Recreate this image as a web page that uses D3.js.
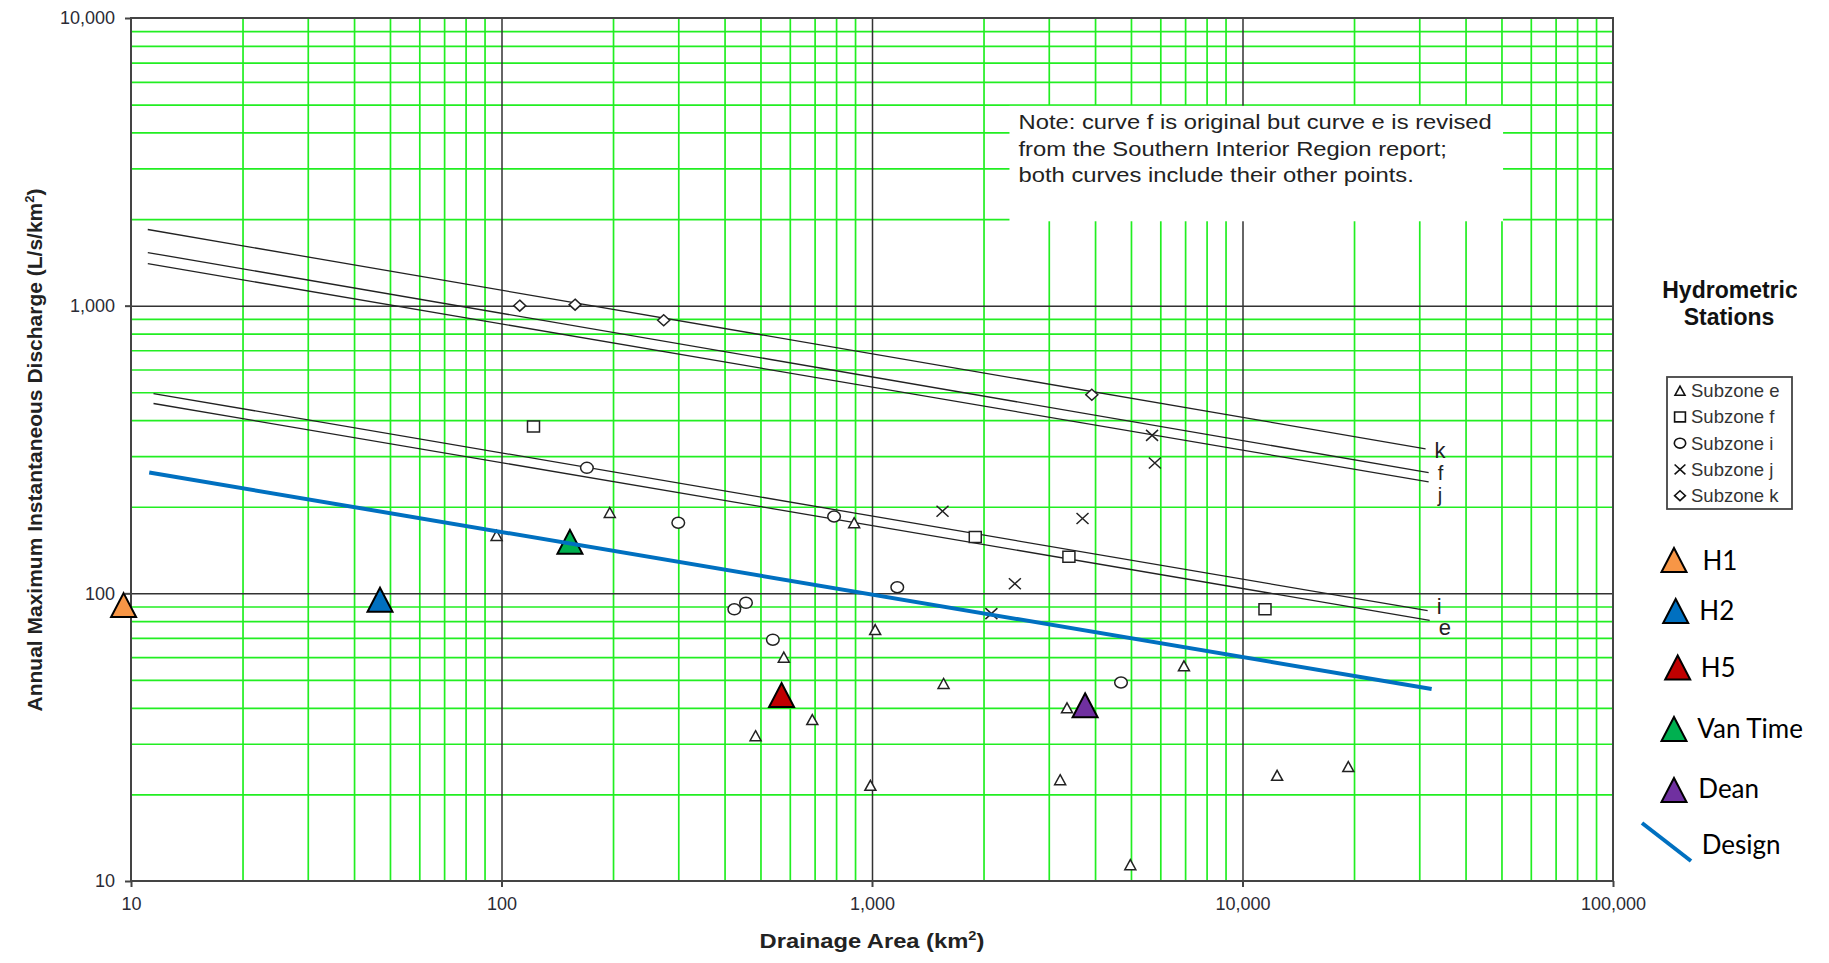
<!DOCTYPE html>
<html><head><meta charset="utf-8">
<script src="https://cdn.jsdelivr.net/npm/d3@7"></script>
<style>
html,body{margin:0;padding:0;background:#fff;}
svg{display:block;font-family:"Liberation Sans",Arial,sans-serif;}
</style>
</head><body>
<svg id="chart" width="1829" height="963"></svg>
<script>
// ---------------- DATA ----------------
const xTicks = [10, 100, 1000, 10000, 100000];
const xTickLabels = ["10", "100", "1,000", "10,000", "100,000"];
const yTicks = [10, 100, 1000, 10000];
const yTickLabels = ["10", "100", "1,000", "10,000"];

// regional curves: [area, discharge] at start and end
const curveNames = ["k", "f", "j", "i", "e"];
const curveStart = [[11.1, 1840], [11.1, 1530], [11.1, 1400], [11.5, 495], [11.5, 457]];
const curveEnd   = [[31200, 318], [31800, 263], [31800, 244], [31600, 87], [32000, 80.6]];

// design curve
const designLine = [[11.2, 263], [32400, 46.5]];

// hydrometric stations by subzone [area km2, L/s/km2]
const subzoneE = [[97, 159], [196, 191], [895, 176], [1020, 74.8], [578, 60], [1560, 48.6],
                  [3360, 40], [690, 36.4], [485, 32], [3220, 22.5], [990, 21.5], [4980, 11.4],
                  [6950, 56], [12400, 23.3], [19300, 25]];
const subzoneF = [[122, 380], [1900, 157], [3400, 134], [11500, 88]];
const subzoneI = [[170, 273], [300, 176], [790, 185], [1170, 105], [425, 88], [457, 92.7], [540, 69], [4700, 49]];
const subzoneJ = [[1550, 193], [2430, 108], [2100, 85], [3700, 182], [5700, 354], [5800, 284]];
const subzoneK = [[112, 1000], [158, 1008], [274, 890], [3920, 490]];
const subzoneLabels = ["Subzone e", "Subzone f", "Subzone i", "Subzone j", "Subzone k"];

// project stations
const stationNames = ["H1", "H2", "H5", "Van Time", "Dean"];
const stationArea  = [9.55, 47, 570, 153, 3760];
const stationQ     = [91, 95, 44.3, 151, 40.8];
const stationColors = ["#F79646", "#0070C0", "#C00000", "#00B050", "#7030A0"];

const noteLines = ["Note: curve f is original but curve e is revised",
                   "from the Southern Interior Region report;",
                   "both curves include their other points."];
const noteBox = [[2350, 4950], [50500, 1965]];

// ---------------- LAYOUT ----------------
const svg = d3.select("#chart");
const x = d3.scaleLog().domain([10, 100000]).range([131, 1613]);
const y = d3.scaleLog().domain([10, 10000]).range([881, 18]);
const X0 = x.range()[0], X1 = x.range()[1], Y0 = y.range()[1], Y1 = y.range()[0];

const GREEN = "#22ee22", DARK = "#333";

// minor grid (green) via axes
const minorX = x.ticks().filter(d => !xTicks.includes(d));
const minorY = y.ticks().filter(d => !yTicks.includes(d));

const gGrid = svg.append("g");
gGrid.append("g").attr("transform", `translate(0,${Y1})`)
  .call(d3.axisBottom(x).tickValues(minorX).tickSize(-(Y1 - Y0)).tickFormat(""))
  .call(g => g.select(".domain").remove())
  .selectAll("line").attr("stroke", GREEN).attr("stroke-width", 1.7);
gGrid.append("g").attr("transform", `translate(${X0},0)`)
  .call(d3.axisLeft(y).tickValues(minorY).tickSize(-(X1 - X0)).tickFormat(""))
  .call(g => g.select(".domain").remove())
  .selectAll("line").attr("stroke", GREEN).attr("stroke-width", 1.7);

// note box (white) covering grid
svg.append("rect")
  .attr("x", x(noteBox[0][0])).attr("y", y(noteBox[0][1]))
  .attr("width", x(noteBox[1][0]) - x(noteBox[0][0]))
  .attr("height", y(noteBox[1][1]) - y(noteBox[0][1]))
  .attr("fill", "#fff");

// major grid lines (dark)
gGrid.append("g").attr("transform", `translate(0,${Y1})`)
  .call(d3.axisBottom(x).tickValues(xTicks.slice(1, -1)).tickSize(-(Y1 - Y0)).tickFormat(""))
  .call(g => g.select(".domain").remove())
  .selectAll("line").attr("stroke", DARK).attr("stroke-width", 1.5);
gGrid.append("g").attr("transform", `translate(${X0},0)`)
  .call(d3.axisLeft(y).tickValues(yTicks.slice(1, -1)).tickSize(-(X1 - X0)).tickFormat(""))
  .call(g => g.select(".domain").remove())
  .selectAll("line").attr("stroke", DARK).attr("stroke-width", 1.5);

// note text
const noteG = svg.append("g")
  .attr("transform", `translate(${x(noteBox[0][0]) + 9},0)`);
noteLines.forEach((t, i) => {
  noteG.append("text")
    .attr("transform", `translate(0,${129 + i * 26.5}) scale(1.22,1)`)
    .attr("font-size", 19.5).attr("fill", "#222").text(t);
});

// frame
svg.append("rect").attr("x", X0).attr("y", Y0).attr("width", X1 - X0).attr("height", Y1 - Y0)
  .attr("fill", "none").attr("stroke", "#444").attr("stroke-width", 2);

// axes ticks & labels
const xAxisG = svg.append("g").attr("transform", `translate(0,${Y1})`)
  .call(d3.axisBottom(x).tickValues(xTicks).tickFormat((d, i) => xTickLabels[i]).tickSize(6).tickPadding(10).tickSizeOuter(0));
xAxisG.select(".domain").remove();
xAxisG.selectAll("line").attr("stroke", "#444").attr("stroke-width", 2);
xAxisG.selectAll("text").attr("font-size", 18).attr("fill", "#2b2b35").attr("font-family", "Liberation Sans, Arial, sans-serif");

const yAxisG = svg.append("g").attr("transform", `translate(${X0},0)`)
  .call(d3.axisLeft(y).tickValues(yTicks).tickFormat((d, i) => yTickLabels[i]).tickSize(6).tickPadding(10).tickSizeOuter(0));
yAxisG.select(".domain").remove();
yAxisG.selectAll("line").attr("stroke", "#444").attr("stroke-width", 2);
yAxisG.selectAll("text").attr("font-size", 18).attr("fill", "#2b2b35").attr("font-family", "Liberation Sans, Arial, sans-serif");

// axis titles
const xt = svg.append("text")
  .attr("transform", `translate(872,948) scale(1.13,1)`)
  .attr("text-anchor", "middle").attr("font-size", 21).attr("font-weight", "bold").attr("fill", "#222");
xt.append("tspan").text("Drainage Area (km");
xt.append("tspan").attr("font-size", 13).attr("dy", -8).text("2");
xt.append("tspan").attr("dy", 8).text(")");

const yt = svg.append("text")
  .attr("transform", "translate(42,450) rotate(-90)")
  .attr("text-anchor", "middle").attr("font-size", 21).attr("font-weight", "bold").attr("fill", "#222");
yt.append("tspan").text("Annual Maximum Instantaneous Discharge (L/s/km");
yt.append("tspan").attr("font-size", 13).attr("dy", -8).text("2");
yt.append("tspan").attr("dy", 8).text(")");

// regional curves
const line = d3.line().x(d => x(d[0])).y(d => y(d[1]));
const curveLabelDy = [9, 7, 20, 3, 15];
const curveLabelSize = [22, 20, 20, 22, 22];
curveNames.forEach((n, i) => {
  svg.append("path").attr("d", line([curveStart[i], curveEnd[i]]))
    .attr("fill", "none").attr("stroke", "#222").attr("stroke-width", 1.3);
  svg.append("text")
    .attr("x", x(curveEnd[i][0]) + 9).attr("y", y(curveEnd[i][1]) + curveLabelDy[i])
    .attr("font-size", curveLabelSize[i]).attr("fill", "#222").text(n);
});

// marker shapes
const shapes = {
  tri: "M0,-5 L5.5,5 L-5.5,5 Z",
  sq: "M-6,-5.5 H6 V5.5 H-6 Z",
  circ: "M-6.3,0 A6.3,5.5 0 1,0 6.3,0 A6.3,5.5 0 1,0 -6.3,0 Z",
  x: "M-6,-5.5 L6,5.5 M-6,5.5 L6,-5.5",
  dia: "M0,-5.5 L6,0 L0,5.5 L-6,0 Z"
};
const groups = [[subzoneE, "tri"], [subzoneF, "sq"], [subzoneI, "circ"], [subzoneJ, "x"], [subzoneK, "dia"]];
groups.forEach(([data, shp]) => {
  svg.append("g").selectAll("path").data(data).join("path")
    .attr("transform", d => `translate(${x(d[0])},${y(d[1])})`)
    .attr("d", shapes[shp])
    .attr("fill", shp === "x" ? "none" : "#fff")
    .attr("stroke", "#222").attr("stroke-width", 1.5);
});

// station triangles
const bigTri = "M0,-12 L12.5,12 L-12.5,12 Z";
svg.append("g").selectAll("path").data(stationNames).join("path")
  .attr("transform", (d, i) => `translate(${x(stationArea[i])},${y(stationQ[i])})`)
  .attr("d", bigTri)
  .attr("fill", (d, i) => stationColors[i])
  .attr("stroke", "#000").attr("stroke-width", 2);

// design line
svg.append("path").attr("d", line(designLine))
  .attr("fill", "none").attr("stroke", "#0070C0").attr("stroke-width", 4);

// ---------------- LEGENDS ----------------
svg.append("defs").append("clipPath").attr("id", "clipR")
  .append("rect").attr("x", 0).attr("y", 0).attr("width", 1797).attr("height", 963);
const lg = svg.append("g").attr("clip-path", "url(#clipR)");
lg.append("text").attr("x", 1730).attr("y", 298).attr("text-anchor", "middle")
  .attr("font-size", 23).attr("font-weight", "bold").attr("fill", "#111").text("Hydrometric");
lg.append("text").attr("x", 1729).attr("y", 325).attr("text-anchor", "middle")
  .attr("font-size", 23).attr("font-weight", "bold").attr("fill", "#111").text("Stations");

svg.append("rect").attr("x", 1667).attr("y", 377).attr("width", 125).attr("height", 132)
  .attr("fill", "#fff").attr("stroke", "#444").attr("stroke-width", 1.8);
const legShapes = ["tri", "sq", "circ", "x", "dia"];
subzoneLabels.forEach((t, i) => {
  const cy = 390.7 + i * 26.25;
  svg.append("path").attr("transform", `translate(1680,${cy}) scale(0.9)`)
    .attr("d", shapes[legShapes[i]])
    .attr("fill", legShapes[i] === "x" ? "none" : "#fff")
    .attr("stroke", "#111").attr("stroke-width", 1.8);
  svg.append("text").attr("x", 1691).attr("y", cy + 6.5)
    .attr("font-size", 18.5).attr("fill", "#333").text(t);
});

const stLegTri = [[1674, 560], [1675.7, 611], [1677.7, 667.5], [1674, 729], [1674, 790]];
const stLegText = [[1702.5, 570], [1699.3, 620], [1700.7, 676.7], [1697.3, 738], [1698.3, 798]];
stationNames.forEach((n, i) => {
  svg.append("path").attr("transform", `translate(${stLegTri[i][0]},${stLegTri[i][1]})`)
    .attr("d", bigTri).attr("fill", stationColors[i]).attr("stroke", "#000").attr("stroke-width", 2);
  svg.append("text").attr("x", stLegText[i][0]).attr("y", stLegText[i][1])
    .attr("font-family", "Lato, 'Open Sans', sans-serif").attr("font-size", 26).attr("fill", "#000").text(n);
});
svg.append("line").attr("x1", 1642).attr("y1", 823).attr("x2", 1691).attr("y2", 861)
  .attr("stroke", "#0070C0").attr("stroke-width", 4);
svg.append("text").attr("x", 1701.7).attr("y", 854)
  .attr("font-family", "Lato, 'Open Sans', sans-serif").attr("font-size", 26).attr("fill", "#000").text("Design");
</script>
</body></html>
